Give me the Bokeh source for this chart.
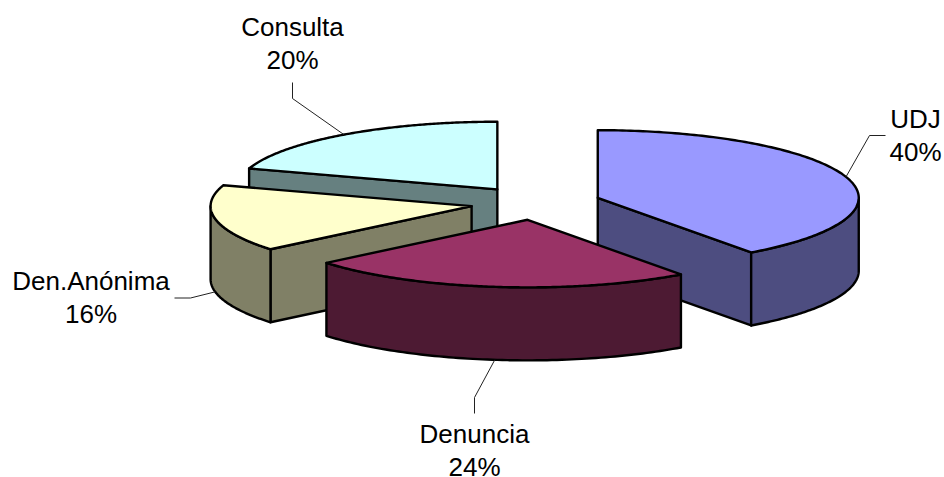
import numpy as np
from bokeh.plotting import figure
from bokeh.models import Range1d
from bokeh.core.properties import value
from bokeh.embed import file_html
from bokeh.resources import INLINE

# Data
categories = ["UDJ", "Denuncia", "Den.Anónima", "Consulta"]
values = [40, 24, 16, 20]
top_colors = ["#9999FF", "#993366", "#FFFFCC", "#CCFFFF"]
side_colors = ["#4D4D80", "#4D1A33", "#808066", "#668080"]
draw_order = [3, 2, 0, 1]

# Layout of the projected pie (page pixels)
W, H = 944, 477
CX, CY = 535.2, 202.5
RX, RY = 261.0, 67.6
DEPTH = 73.0
EXPLODE = 0.25

# label anchors: centre x, first baseline y, elbow x, elbow y, end x, end y, rim on bottom?
label_x = [915, 474, 90.5, 292]
label_y = [118, 433.5, 280.5, 26.5]
elbow_x = [869, 474, 190, 292]
elbow_y = [135, 397, 297.5, 98]
end_x = [885, 474, 174, 292]
end_y = [135, 413, 297.5, 82]
rim_bottom = [False, True, True, False]
LINE_STEP = 33

p = figure(width=W, height=H, output_backend="svg", toolbar_location=None,
           x_range=Range1d(0, W), y_range=Range1d(H, 0),
           min_border=0, outline_line_color=None, background_fill_color="white",
           border_fill_color="white")
p.axis.visible = False
p.grid.visible = False

fractions = np.array(values, dtype=float) / sum(values)
ends = np.cumsum(fractions) * 2 * np.pi
starts = ends - fractions * 2 * np.pi
mids = (starts + ends) / 2
cxs = CX + EXPLODE * RX * np.sin(mids)
cys = CY - EXPLODE * RY * np.cos(mids)


def rim(i, t, drop=0.0):
    return cxs[i] + RX * np.sin(t), cys[i] - RY * np.cos(t) + drop


def face(xs, ys, color):
    p.patch(list(xs), list(ys), fill_color=color, line_color="black", line_width=2.4,
            line_join="round")


for i in draw_order:
    a, b = starts[i], ends[i]
    # radial walls facing the viewer
    for t, normal in ((a, a - np.pi / 2), (b, b + np.pi / 2)):
        if np.cos(normal) < -1e-6:
            ex, ey = rim(i, t)
            face([cxs[i], ex, ex, cxs[i]], [cys[i], ey, ey + DEPTH, cys[i] + DEPTH], side_colors[i])
    # outer wall, only the front half of the ellipse
    lo, hi = max(a, np.pi / 2), min(b, 3 * np.pi / 2)
    if hi > lo:
        t = np.linspace(lo, hi, 80)
        x1, y1 = rim(i, t)
        x2, y2 = rim(i, t[::-1], DEPTH)
        face(np.r_[x1, x2], np.r_[y1, y2], side_colors[i])
    # top face
    t = np.linspace(a, b, 160)
    x1, y1 = rim(i, t)
    face(np.r_[cxs[i], x1], np.r_[cys[i], y1], top_colors[i])

# Leaders and labels
for i, name in enumerate(categories):
    rx, ry = rim(i, mids[i], DEPTH if rim_bottom[i] else 0.0)
    p.line([rx, elbow_x[i], end_x[i]], [ry, elbow_y[i], end_y[i]],
           line_color="#222222", line_width=1)
    pct = f"{round(fractions[i] * 100)}%"
    p.text([label_x[i], label_x[i]], [label_y[i], label_y[i] + LINE_STEP], text=[name, pct],
           text_align="center", text_baseline="alphabetic", text_color="black",
           text_font=value("Liberation Sans"), text_font_size="26px")

open("out.html", "w").write(file_html(p, INLINE))
